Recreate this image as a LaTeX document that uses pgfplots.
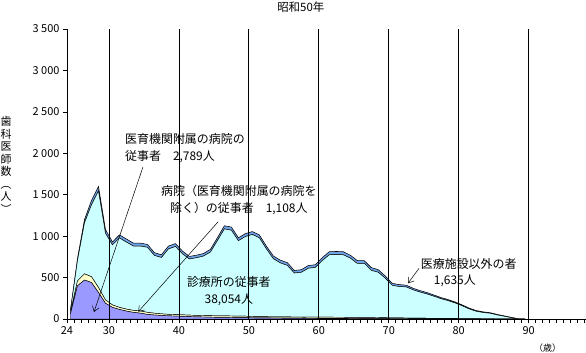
\documentclass[border=0pt]{standalone}
\usepackage{pgfplots}
\pgfplotsset{compat=1.18}
\usepackage{pgfplotstable}
\usepackage{fontspec}
\setmainfont{Noto Sans CJK JP}
\usetikzlibrary{arrows.meta}
\definecolor{cP}{HTML}{9999FF}
\definecolor{cY}{HTML}{FFFFCC}
\definecolor{cC}{HTML}{CCFFFF}
\definecolor{cB}{HTML}{6FA3E8}

\pgfplotstableread{
a P Y C B
24 65 15 25 5
25 400 60 245 25
26 470 75 615 40
27 440 70 868 52
28 320 60 1165 55
29 190 40 805 45
30 140 30 725 35
31 115 25 838 37
32 95 24 809 37
33 80 24 776 35
34 70 26 784 35
35 55 25 785 35
36 48 22 697 33
37 42 20 680 33
38 38 18 789 35
39 35 18 822 35
40 32 18 737 33
41 28 18 678 31
42 26 18 695 31
43 24 18 717 31
44 22 18 767 33
45 20 18 907 35
46 20 18 1049 38
47 18 18 1036 38
48 17 18 910 35
49 16 18 961 35
50 15 15 990 35
51 14 15 951 35
52 13 15 819 33
53 12 14 701 33
54 12 14 651 33
55 11 14 622 33
56 10 14 530 31
57 10 14 540 31
58 9 14 589 33
59 9 14 599 33
60 8 14 683 35
61 8 14 753 37
62 7 14 757 37
63 7 14 754 37
64 6 14 715 35
65 6 14 650 35
66 5 14 652 33
67 5 14 568 33
68 4 14 546 31
69 4 12 476 28
70 3 10 392 25
71 3 10 379 23
72 3 9 375 21
73 3 8 340 19
74 3 8 313 18
75 2 7 292 17
76 2 6 265 15
77 2 6 236 14
78 2 5 214 13
79 2 5 186 12
80 1 4 154 11
81 1 3 117 10
82 1 3 89 9
83 1 2 75 8
84 1 2 66 7
85 0 2 47 6
86 0 1 32 5
87 0 1 15 4
88 0 0 3 0
89 0 0 0 0
}\data

\begin{document}
\begin{tikzpicture}
\begin{axis}[
  name=ax, scale only axis, width=519bp, height=290bp,
  xmin=24, xmax=98.2, ymin=0, ymax=3500,
  axis x line=bottom, axis y line=left,
  axis line style={-, line width=0.8bp},
  xtick={24,30,40,50,60,70,80,90},
  minor xtick={25,...,98},
  ytick={0,500,...,3500},
  yticklabels={0,500,1 000,1 500,2 000,2 500,3 000,3 500},
  tick style={black, line width=0.6bp},
  tick align=outside,
  major tick length=4bp, minor tick length=4bp,
  xmajorgrids, grid style={black, line width=0.8bp},
  stack plots=y,
  clip=false,
  axis on top,
  /pgf/number format/assume math mode=true,
  tick label style={font=\fontsize{11}{12}\selectfont},
]
\addplot[draw=black, line width=0.45bp, fill=cP] table[x expr=\thisrow{a}+0.5, y=P]{\data} \closedcycle;
\addplot[draw=black, line width=0.45bp, fill=cY] table[x expr=\thisrow{a}+0.5, y=Y]{\data} \closedcycle;
\addplot[draw=black, line width=0.45bp, fill=cC] table[x expr=\thisrow{a}+0.5, y=C]{\data} \closedcycle;
\addplot[draw=black, line width=0.55bp, fill=cB] table[x expr=\thisrow{a}+0.5, y=B]{\data} \closedcycle;

\coordinate (SW) at (rel axis cs:0,0);
\coordinate (NE) at (rel axis cs:1,1);
\coordinate (A1s) at (axis cs:34.86,1835);
\coordinate (A1e) at (axis cs:27.86,85);
\coordinate (A2s) at (axis cs:45.61,1174);
\coordinate (A2e) at (axis cs:34.19,88);
\coordinate (A3s) at (axis cs:74.33,612);
\coordinate (A3e) at (axis cs:72.76,431);
\coordinate (L1) at (axis cs:32.29,2058);
\coordinate (L2) at (axis cs:48.57,1436);
\coordinate (L3) at (axis cs:47.14,332);
\coordinate (L4) at (axis cs:74.57,555);
\coordinate (T) at (axis cs:57.43,3765);
\coordinate (YL) at (axis cs:15.29,1859);
\coordinate (XU) at (axis cs:92.71,-350);
\end{axis}
\draw[-{Straight Barb[length=5bp,width=7bp]}, line width=0.5bp] (A1s) -- (A1e);
\draw[-{Straight Barb[length=5bp,width=7bp]}, line width=0.5bp] (A2s) -- (A2e);
\draw[-{Straight Barb[length=5bp,width=7bp]}, line width=0.5bp] (A3s) -- (A3e);
\node[anchor=west, align=left, inner sep=0, font=\fontsize{12}{17}\selectfont] at (L1) {医育機関附属の病院の\\従事者　2,789人};
\node[align=center, inner sep=0, font=\fontsize{12}{16.6}\selectfont] at (L2) {病院（医育機関附属の病院を\\除く）の従事者　1,108人};
\node[align=center, inner sep=0, font=\fontsize{12}{17}\selectfont] at (L3) {診療所の従事者\\38,054人};
\node[anchor=west, align=left, inner sep=0, font=\fontsize{12}{16}\selectfont] at (L4) {医療施設以外の者\\\hspace{13bp}1,635人};
\node[font=\fontsize{11.5}{12}\selectfont] at (T) {昭和50年};
\node[align=center, inner sep=0, font=\fontsize{11}{12.5}\selectfont] at (YL) {歯\\科\\医\\師\\数\\︵\\人\\︶};
\node[font=\fontsize{9}{10}\selectfont] at (XU) {（歳）};
\pgfresetboundingbox
\path ([xshift=-67bp,yshift=-34bp]SW) rectangle ([yshift=29bp]NE);
\end{tikzpicture}
\end{document}
